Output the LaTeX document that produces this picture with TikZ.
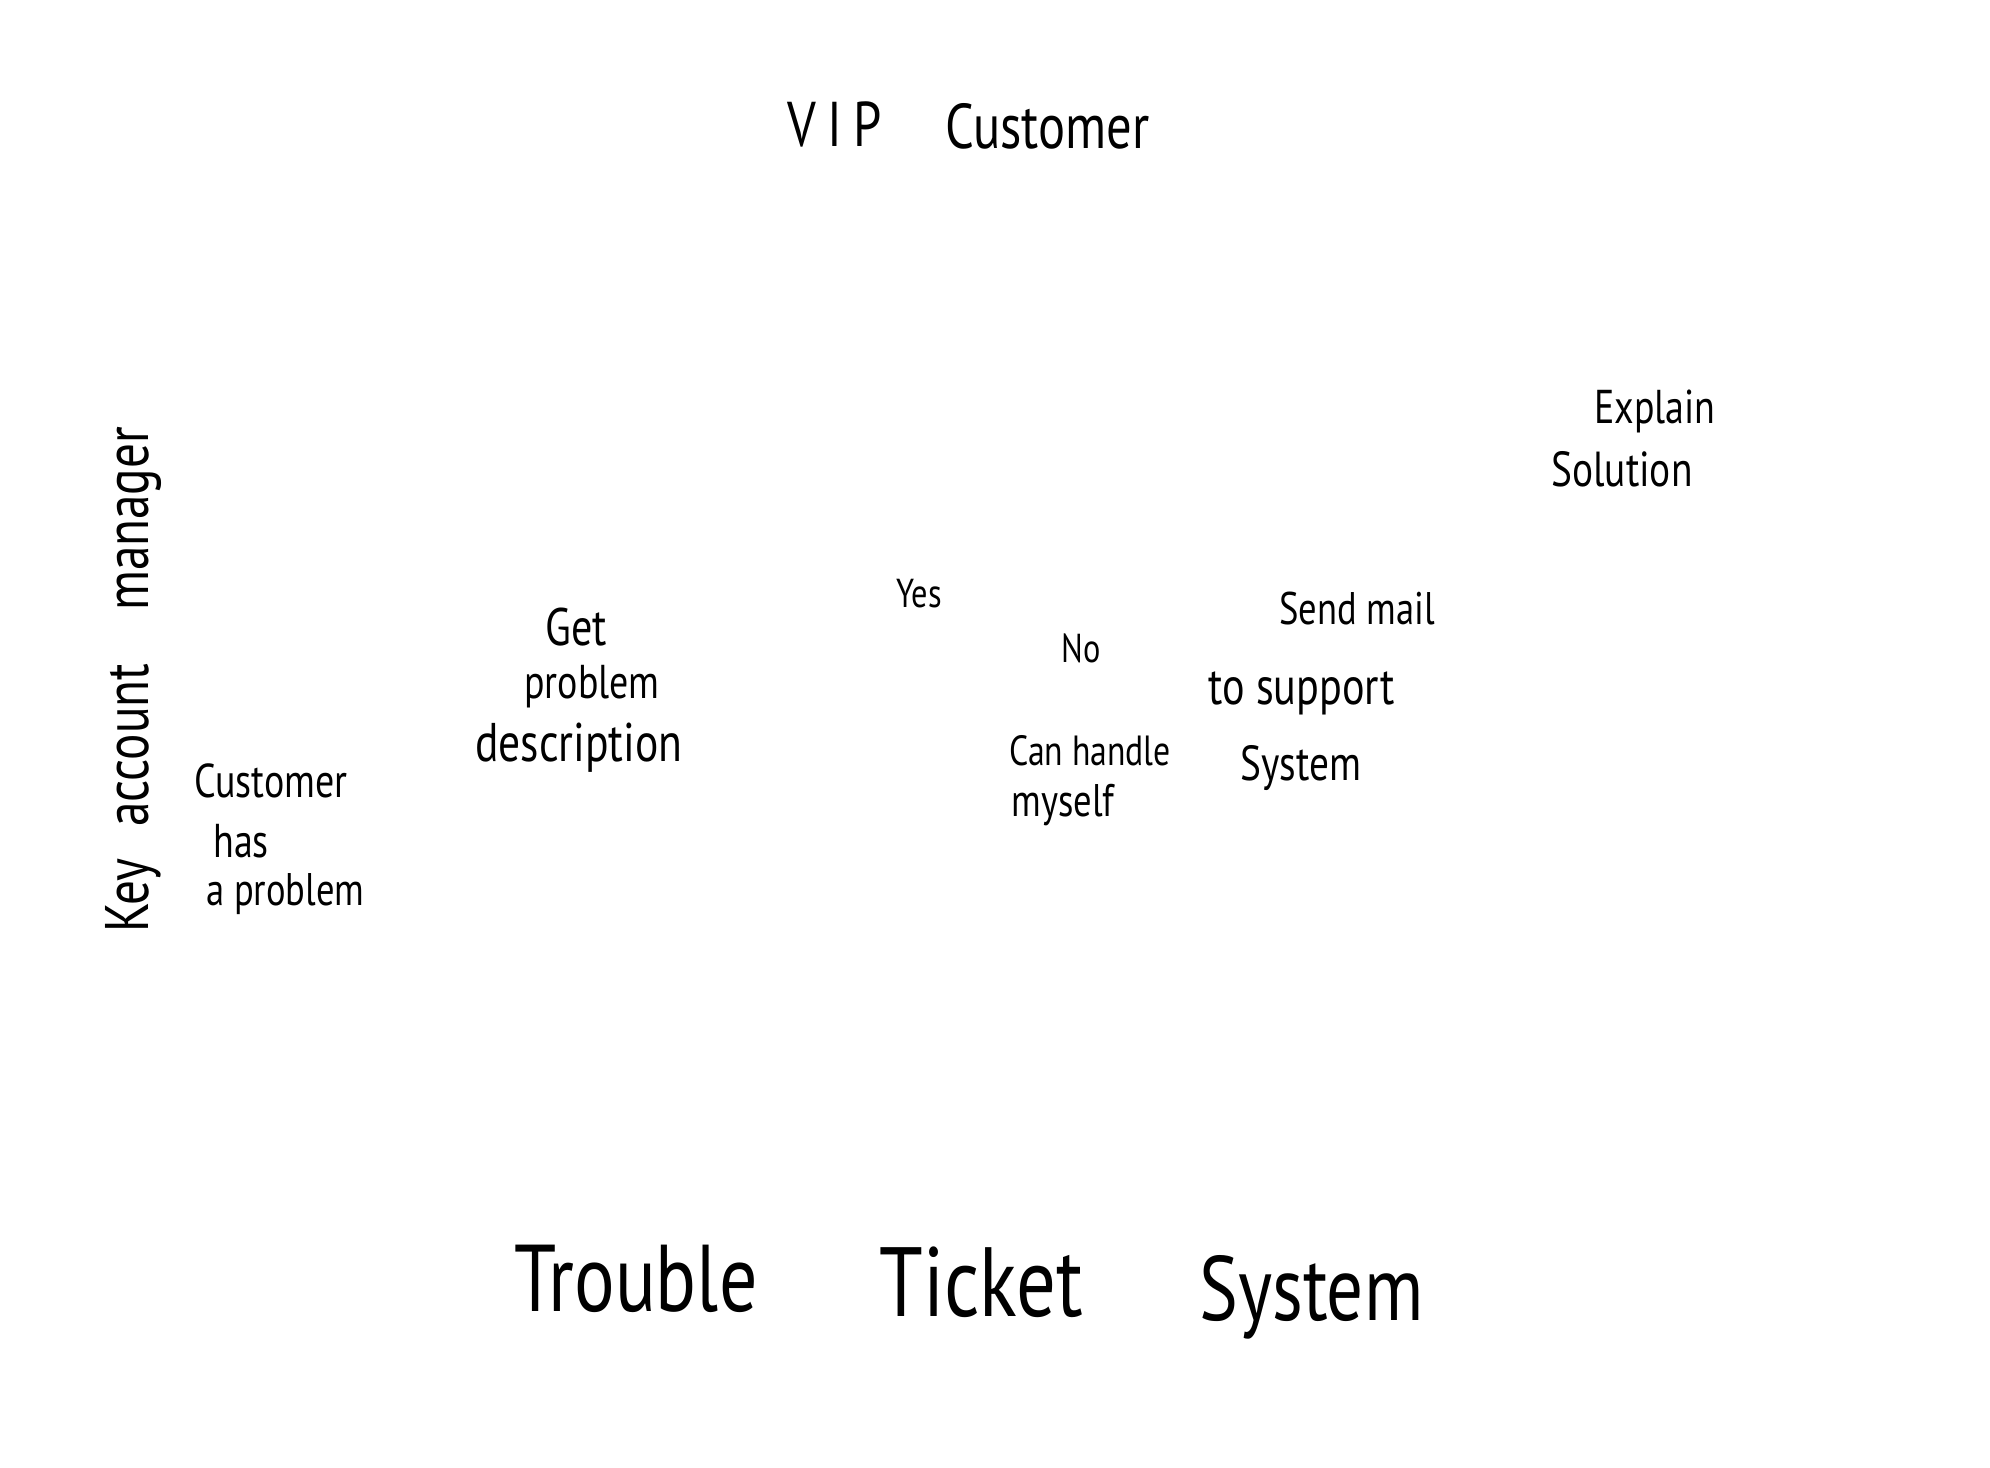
\documentclass[tikz,border=0pt]{standalone}
\usepackage{fontspec}
\setmainfont[FakeStretch=0.8]{PT Sans}
\begin{document}
\begin{tikzpicture}[x=0.02cm, y=-0.02cm,
  lbl/.style={anchor=base west, inner sep=0pt, text=black,
    font=\fontsize{#1}{#1}\selectfont}]
\useasboundingbox (0,0) rectangle (1990,1467);
\fill[white] (0,0) rectangle (1990,1467);

% header
\node[lbl=36] (vip) at (787,146) {\addfontfeature{LetterSpace=18}VIP};
\node[lbl=36] (cust) at (945,148) {Customer};

% swimlane title, read bottom to top
\node[lbl=35, rotate=90] (lane) at (148,933) {Key\hspace{18pt}account\hspace{30pt}manager};

% start
\node[lbl=27] (s1) at (194,797) {Customer};
\node[lbl=27] (s2) at (213,857) {has};
\node[lbl=26] (s3) at (206,905) {a problem};

% get description
\node[lbl=30] (g1) at (545,645) {Get};
\node[lbl=27] (g2) at (524,698) {problem};
\node[lbl=31] (g3) at (475,761) {description};

% decision
\node[lbl=23] (yes) at (896,607) {Yes};
\node[lbl=23] (no) at (1061,662) {No};
\node[lbl=24] (c1) at (1009,765) {Can handle};
\node[lbl=26] (c2) at (1011,816) {myself};

% send mail
\node[lbl=26] (m1) at (1279,624) {Send mail};
\node[lbl=30] (m2) at (1208,704) {to support};
\node[lbl=28] (m3) at (1240,780) {System};

% explain
\node[lbl=27] (e1) at (1594,423) {Explain};
\node[lbl=28] (e2) at (1551,486) {Solution};

% footer
\node[lbl=54] (t1) at (514,1311) {Trouble};
\node[lbl=56] (t2) at (879,1316) {Ticket};
\node[lbl=52] (t3) at (1199,1320) {System};
\end{tikzpicture}
\end{document}
